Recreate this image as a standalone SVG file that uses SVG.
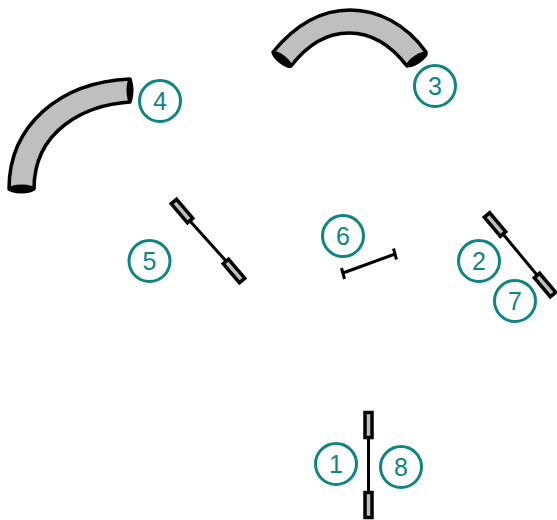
<svg xmlns="http://www.w3.org/2000/svg" width="557" height="520" viewBox="0 0 557 520">
<style>
.tube{fill:#bfbfbf;stroke:#000;stroke-width:3.500;stroke-linejoin:round}
.cap{fill:#000;stroke:none}
.pole{fill:none;stroke:#000;stroke-width:3}
.post{fill:#bfbfbf;stroke:#000;stroke-width:3.500}
.badge{fill:#fff;stroke:#0e8583;stroke-width:3}
.num{fill:#0e8583;font-family:"Liberation Sans",Arial,sans-serif;font-size:25px;text-anchor:middle}
</style>
<g id="connectors"></g>
<g id="tunnel-3">
<path class="tube" d="M273 52C296 24 323 10 350 10C378 10 406 24 426 52L407 66C390 44 371 33 349 33C327 33 308 44 291 66Z"/>
<ellipse class="cap" cx="282" cy="59.500" rx="12.500" ry="4.500" transform="rotate(38 282 59.500)"/>
<ellipse class="cap" cx="417" cy="59.500" rx="12.500" ry="4.500" transform="rotate(-33 417 59.500)"/>
</g>
<g id="tunnel-4">
<path class="tube" d="M9 189C9 125 60 82 130 79L130 102C85 105 34 130 34 189Z"/>
<ellipse class="cap" cx="21.500" cy="189" rx="13.500" ry="4.500"/>
<ellipse class="cap" cx="130" cy="90.500" rx="3.500" ry="12.500"/>
</g>
<g id="gate-5">
<path class="pole" d="M190 221L226 261"/>
<rect class="post" x="-12.500" y="-3.500" width="25" height="7" transform="translate(182 211) rotate(49.500)"/>
<rect class="post" x="-12.500" y="-3.500" width="25" height="7" transform="translate(234 271) rotate(49.500)"/>
</g>
<g id="gate-6">
<path class="pole" d="M343 273L395 254M341.500 268L344.500 279M393.500 248.500L396.500 259.500"/>
</g>
<g id="gate-2">
<path class="pole" d="M503 234L537 275"/>
<rect class="post" x="-12.500" y="-3.500" width="25" height="7" transform="translate(495 224.500) rotate(50)"/>
<rect class="post" x="-12.500" y="-3.500" width="25" height="7" transform="translate(545 285) rotate(50)"/>
</g>
<g id="gate-1">
<path class="pole" d="M368.500 438V492"/>
<rect class="post" x="365" y="412.500" width="7" height="25"/>
<rect class="post" x="365" y="492.500" width="7" height="25"/>
</g>
<g id="node-1"><circle class="badge" cx="336" cy="464" r="20.500"/><text class="num" x="336" y="473">1</text></g>
<g id="node-2"><circle class="badge" cx="479" cy="261" r="20.500"/><text class="num" x="479" y="270">2</text></g>
<g id="node-3"><circle class="badge" cx="435" cy="86" r="20.500"/><text class="num" x="435" y="95">3</text></g>
<g id="node-4"><circle class="badge" cx="160" cy="101" r="20.500"/><text class="num" x="160" y="110">4</text></g>
<g id="node-5"><circle class="badge" cx="149.500" cy="261" r="20.500"/><text class="num" x="149.500" y="270">5</text></g>
<g id="node-6"><circle class="badge" cx="343" cy="236" r="20.500"/><text class="num" x="343" y="245">6</text></g>
<g id="node-7"><circle class="badge" cx="515" cy="301" r="20.500"/><text class="num" x="515" y="310">7</text></g>
<g id="node-8"><circle class="badge" cx="401" cy="467" r="20.500"/><text class="num" x="401" y="476">8</text></g>
</svg>
